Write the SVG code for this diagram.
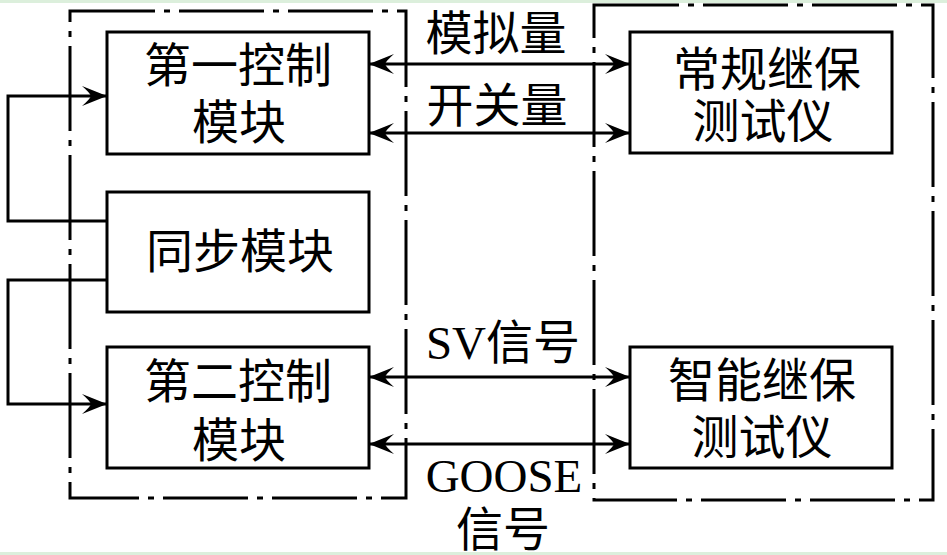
<svg xmlns="http://www.w3.org/2000/svg" width="947" height="555" viewBox="0 0 947 555">
<style>
.box{fill:none;stroke:#000;stroke-width:3}
.frame{fill:none;stroke:#000;stroke-width:3;stroke-dasharray:85 9 6 9}
.wire{fill:none;stroke:#000;stroke-width:3}
.lbl{font-family:"Liberation Serif","Noto Sans CJK SC",serif;font-size:47px;fill:#000;text-anchor:middle}
</style>
<defs>
<marker id="ah" markerUnits="userSpaceOnUse" markerWidth="30" markerHeight="26" viewBox="-26 -13 28 26" refX="0" refY="0" orient="auto-start-reverse">
<path d="M0,0 L-25,-10 Q-17,-3 -16,0 Q-17,3 -25,10 Z" fill="#000"/>
</marker>
</defs>
<rect x="0" y="0" width="947" height="555" fill="#fff"/>
<rect x="0" y="0" width="947" height="3" fill="#dcefdc"/>
<rect x="0" y="552" width="947" height="3" fill="#dcefdc"/>
<g id="frames">
<rect class="frame" x="70" y="11" width="336" height="487"/>
<rect class="frame" x="594" y="5" width="339" height="495"/>
</g>
<g id="n1"><rect class="box" x="107" y="32" width="262" height="122"/><text class="lbl" x="238" y="82">第一控制</text><text class="lbl" x="239" y="139">模块</text></g>
<g id="n2"><rect class="box" x="107" y="192" width="262" height="120"/><text class="lbl" x="240" y="268">同步模块</text></g>
<g id="n3"><rect class="box" x="107" y="347" width="262" height="121"/><text class="lbl" x="238" y="398">第二控制</text><text class="lbl" x="239" y="457">模块</text></g>
<g id="n4"><rect class="box" x="630" y="32" width="262" height="121"/><text class="lbl" x="767" y="86">常规继保</text><text class="lbl" x="763" y="138">测试仪</text></g>
<g id="n5"><rect class="box" x="630" y="347" width="262" height="121"/><text class="lbl" x="762" y="397">智能继保</text><text class="lbl" x="762" y="454">测试仪</text></g>
<g id="connectors">
<path class="wire" d="M369,64 H630" marker-start="url(#ah)" marker-end="url(#ah)"/>
<path class="wire" d="M369,133 H630" marker-start="url(#ah)" marker-end="url(#ah)"/>
<path class="wire" d="M369,377 H630" marker-start="url(#ah)" marker-end="url(#ah)"/>
<path class="wire" d="M369,444 H630" marker-start="url(#ah)" marker-end="url(#ah)"/>
<path class="wire" d="M107,221 H8 V96 H107" marker-end="url(#ah)"/>
<path class="wire" d="M107,280 H8 V404 H107" marker-end="url(#ah)"/>
</g>
<g id="labels">
<text class="lbl" x="496" y="50">模拟量</text>
<text class="lbl" x="497" y="122">开关量</text>
<text class="lbl" x="503" y="359">SV信号</text>
<text class="lbl" x="504" y="492">GOOSE</text>
<text class="lbl" x="503" y="546">信号</text>
</g>
</svg>
